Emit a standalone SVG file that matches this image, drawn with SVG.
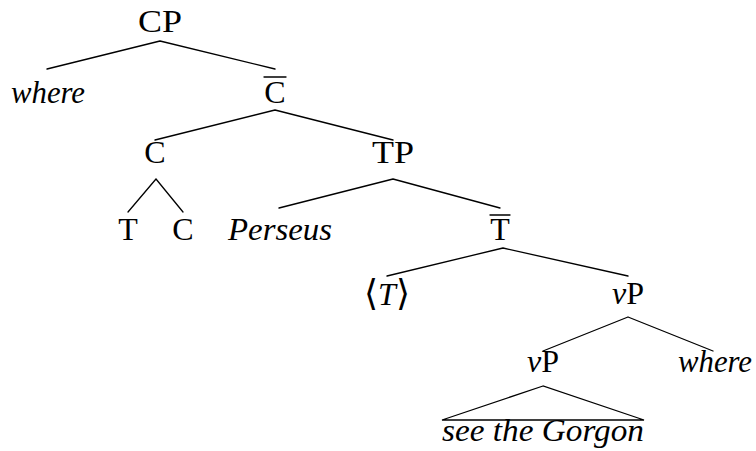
<svg xmlns="http://www.w3.org/2000/svg" width="756" height="451" viewBox="0 0 756 451">
<style>
text{font-family:"Liberation Serif","Times New Roman",serif;font-size:32px;fill:#000;text-anchor:middle}
.i{font-style:italic}
.e{stroke:#000;stroke-width:1.3;fill:none;stroke-linecap:round}
.br{font-family:"DejaVu Serif",serif;font-style:normal;font-size:36px}
</style>
<rect width="756" height="451" fill="#fff"/>
<g id="connectors" class="e">
<path d="M160,41 L47,69 M160,41 L275,69"/>
<path d="M275,110 L155,140 M275,110 L393,140"/>
<path d="M156,179 L128,212 M156,179 L183,212"/>
<path d="M393,179 L279,208 M393,179 L500,208"/>
<path d="M503,248 L387,276 M503,248 L628,276"/>
<path d="M628,317 L543,351 M628,317 L713,351"/>
<path d="M543,386 L442,420 L644,420 Z"/>
</g>
<g id="CP"><text x="160" y="32" textLength="44" lengthAdjust="spacingAndGlyphs">CP</text></g>
<g id="where1"><text class="i" x="48" y="103" textLength="74" lengthAdjust="spacingAndGlyphs">where</text></g>
<g id="Cbar"><text x="275" y="103">C</text><line class="e" x1="264" y1="77" x2="286" y2="77"/></g>
<g id="C1"><text x="155" y="163">C</text></g>
<g id="TP"><text x="393" y="163" textLength="42" lengthAdjust="spacingAndGlyphs">TP</text></g>
<g id="T"><text x="128" y="240">T</text></g>
<g id="C2"><text x="183" y="240">C</text></g>
<g id="Perseus"><text class="i" x="280" y="240" textLength="104" lengthAdjust="spacingAndGlyphs">Perseus</text></g>
<g id="Tbar"><text x="500" y="240">T</text><line class="e" x1="490" y1="215" x2="510" y2="215"/></g>
<g id="Ttrace"><text x="387" y="305"><tspan class="br">⟨</tspan><tspan class="i">T</tspan><tspan class="br">⟩</tspan></text></g>
<g id="vP1"><text x="628" y="304"><tspan class="i">v</tspan>P</text></g>
<g id="vP2"><text x="543" y="372"><tspan class="i">v</tspan>P</text></g>
<g id="where2"><text class="i" x="715" y="372" textLength="74" lengthAdjust="spacingAndGlyphs">where</text></g>
<g id="seeTheGorgon"><text class="i" x="543" y="441" textLength="202" lengthAdjust="spacingAndGlyphs">see the Gorgon</text></g>
</svg>
